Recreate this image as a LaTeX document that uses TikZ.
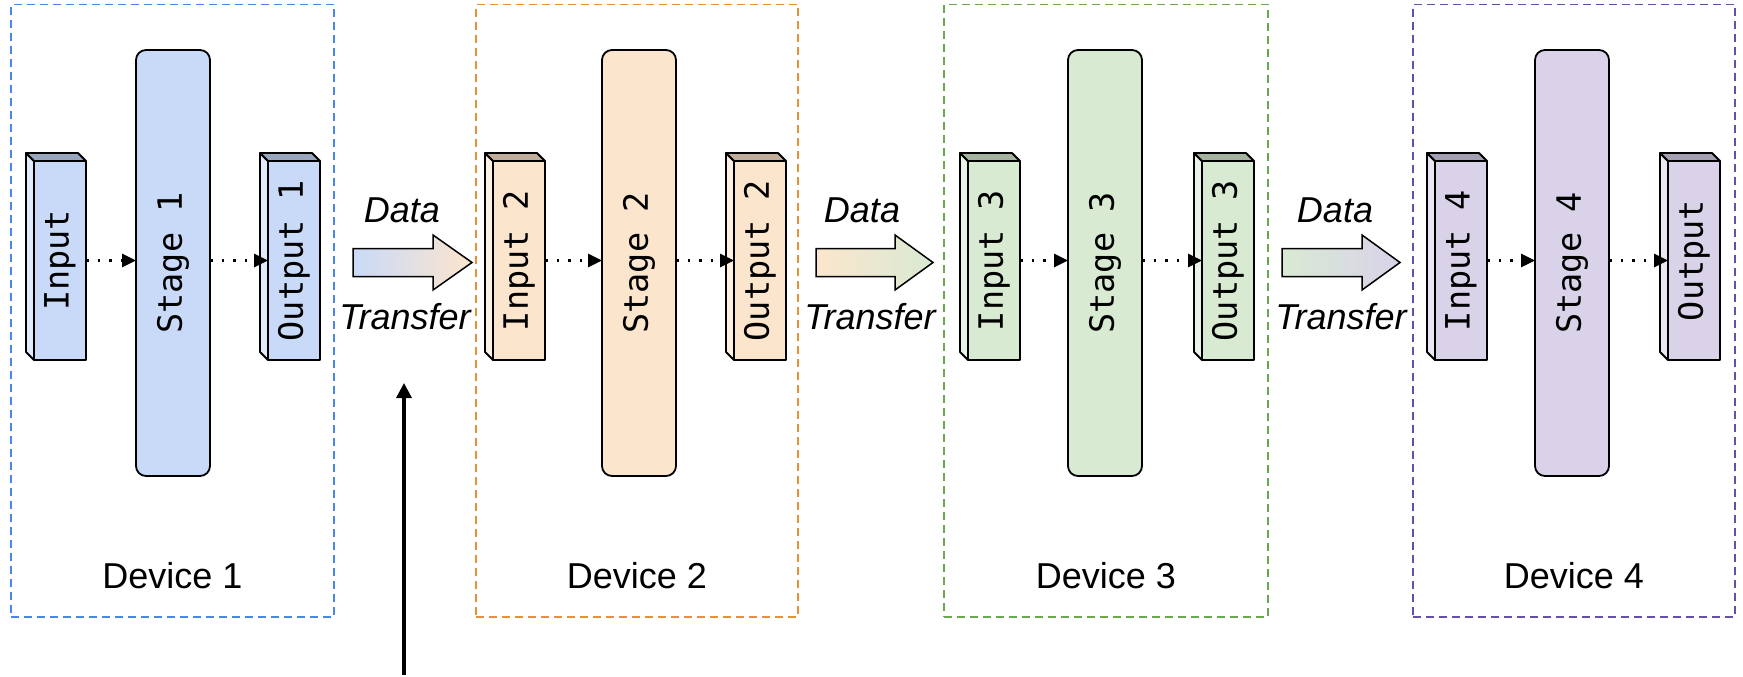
\documentclass[tikz,border=0pt]{standalone}
\usepackage{graphicx}
\usepackage{fontspec}
\setmainfont{Liberation Sans}
\newfontfamily\blockmono{DejaVu Sans Mono}
\usetikzlibrary{arrows.meta}
\definecolor{bfill}{HTML}{C9DAF8}
\definecolor{ofill}{HTML}{FCE5CD}
\definecolor{gfill}{HTML}{D9EAD3}
\definecolor{pfill}{HTML}{D9D2E9}
\definecolor{bline}{HTML}{4A86E8}
\definecolor{oline}{HTML}{E69138}
\definecolor{gline}{HTML}{6AA84F}
\definecolor{pline}{HTML}{674EA7}
\begin{document}
\begin{tikzpicture}[x=1pt,y=-1pt,
  devbox/.style={draw=#1, line width=1.8pt, dash pattern=on 8pt off 5pt, inner sep=0pt, outer sep=0pt},
  blockface/.style={draw=black, line width=1.8pt, fill=#1, inner sep=0pt, outer sep=0pt, line join=round,
     font=\blockmono\fontsize{33.5}{33.5}\selectfont, minimum width=52pt, minimum height=199pt},
  stagebox/.style={draw=black, line width=1.8pt, fill=#1, rounded corners=10pt, inner sep=0pt, outer sep=0pt,
     font=\blockmono\fontsize{33.5}{33.5}\selectfont, minimum width=74pt, minimum height=426pt},
  faceedge/.style={draw=black, line width=1.8pt, line join=round},
  dotarrow/.style={line width=2.6pt, dash pattern=on 2.6pt off 9pt, -{Triangle[length=14pt,width=13pt]}},
  devlabel/.style={font=\fontsize{36}{36}\selectfont, anchor=base, inner sep=0pt},
  xferlabel/.style={font=\itshape\fontsize{36}{36}\selectfont, anchor=base, inner sep=0pt},
  xferarrow/.style={draw=black, line width=1.5pt, line join=miter}
]
\useasboundingbox (0,0) rectangle (1743,677);

\foreach \i/\L/\R/\ix/\sx/\ox/\fc/\bc/\itxt/\otxt in {
  1/11/334/34/136/268/bfill/bline/Input/Output 1,
  2/476/798/493/602/734/ofill/oline/Input 2/Output 2,
  3/944/1268/968/1068/1202/gfill/gline/Input 3/Output 3,
  4/1413/1735/1435/1535/1668/pfill/pline/Input 4/Output}{
  \pgfmathsetmacro\bw{\R-\L}
  \node[devbox=\bc, minimum width=\bw pt, minimum height=612.5pt] (dev\i) at ({(\L+\R)/2},310.75) {};
  \node[devlabel] (lab\i) at ({(\L+\R)/2},588) {Device \i};
  % input block
  \node[blockface=\fc] (in\i) at (\ix+26,260.5) {\rotatebox{90}{\itxt}};
  \draw[faceedge, fill=\fc!55!white] (in\i.north west) -- ++(-8,-8) -- ([shift={(-8,-8)}]in\i.south west) -- (in\i.south west) -- cycle;
  \draw[faceedge, fill=\fc!76!black] (in\i.north west) -- ++(-8,-8) -- ([shift={(-8,-8)}]in\i.north east) -- (in\i.north east) -- cycle;
  % stage
  \node[stagebox=\fc] (st\i) at (\sx+37,263) {\rotatebox{90}{Stage \i}};
  % output block
  \node[blockface=\fc] (out\i) at (\ox+26,260.5) {\rotatebox{90}{\otxt}};
  \draw[faceedge, fill=\fc!55!white] (out\i.north west) -- ++(-8,-8) -- ([shift={(-8,-8)}]out\i.south west) -- (out\i.south west) -- cycle;
  \draw[faceedge, fill=\fc!76!black] (out\i.north west) -- ++(-8,-8) -- ([shift={(-8,-8)}]out\i.north east) -- (out\i.north east) -- cycle;
  % dotted connectors
  \draw[dotarrow] (in\i.east) -- (in\i.east -| st\i.west);
  \draw[dotarrow] (st\i.east |- out\i.west) -- (out\i.west);
}

% data transfer arrows
\foreach \j/\a/\b/\t/\dx/\tx/\ca/\cb in {
  1/353/433/472/402/405/bfill/ofill,
  2/816/895/933/862/870/ofill/gfill,
  3/1282/1362/1400/1335/1341/gfill/pfill}{
  \path[xferarrow, left color=\ca, right color=\cb]
    (\a,248.5) -- (\b,248.5) -- (\b,235) -- (\t,262.5) -- (\b,290) -- (\b,276.5) -- (\a,276.5) -- cycle;
  \node[xferlabel] (data\j) at (\dx,222) {Data};
  \node[xferlabel] (trans\j) at (\tx,329) {Transfer};
}

% vertical pointer arrow
\coordinate (vbot) at (404,675);
\coordinate (vtop) at (404,383);
\draw[line width=3.3pt, -{Triangle[length=15pt,width=15pt]}] (vbot) -- (vtop);
\end{tikzpicture}
\end{document}
